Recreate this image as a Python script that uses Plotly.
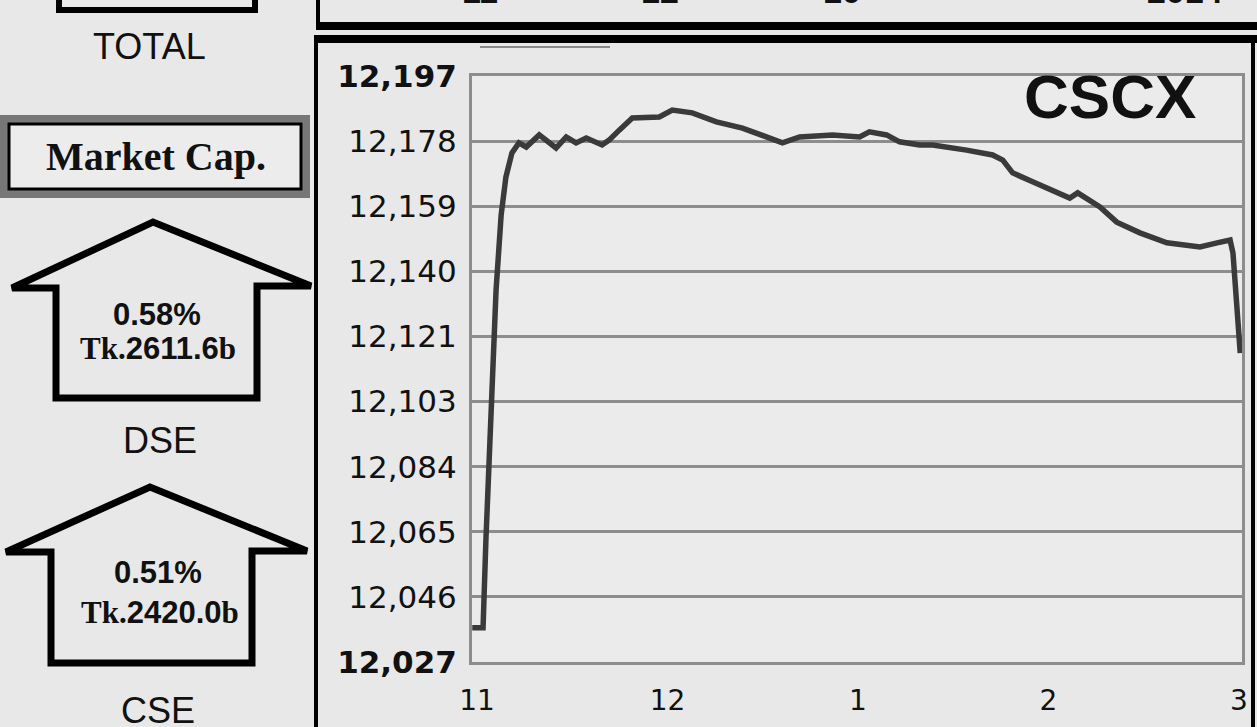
import plotly.graph_objects as go
import numpy as np

W, H = 1257, 727

# ---- data: CSCX intraday (minutes after 11:00) ----
minutes = [-1.5, 1.9, 2.8, 4.4, 6.0, 7.6, 9.1, 11.0, 13.2, 15.5, 19.6, 24.9, 28.1, 31.2,
           34.4, 39.4, 41.6, 44.8, 48.9, 57.4, 61.5, 67.8, 75.4, 83.6, 91.1, 96.2, 101.6,
           112.0, 120.5, 123.6, 129.0, 133.1, 139.4, 143.5, 154.2, 162.4, 165.6, 168.7,
           175.0, 182.6, 186.7, 189.2, 196.2, 201.5, 208.8, 217.3, 222.3, 227.7, 233.1,
           237.2, 238.1, 240.4]
cscx = [12036.9, 12036.9, 12062.4, 12103.0, 12134.9, 12156.7, 12167.7, 12174.7, 12177.6,
        12176.4, 12179.9, 12176.1, 12179.3, 12177.6, 12179.0, 12177.0, 12178.4, 12181.3,
        12184.8, 12185.1, 12187.1, 12186.3, 12183.7, 12181.9, 12179.3, 12177.6, 12179.3,
        12179.9, 12179.3, 12180.8, 12179.9, 12177.9, 12177.0, 12177.0, 12175.5, 12174.1,
        12172.6, 12168.9, 12166.3, 12163.1, 12161.6, 12163.1, 12159.0, 12154.6, 12151.5,
        12148.6, 12148.0, 12147.4, 12148.6, 12149.4, 12145.7, 12116.6]

y_min, y_max = 12027, 12197
y_tick_text = ["12,027", "12,046", "12,065", "12,084", "12,103",
               "12,121", "12,140", "12,159", "12,178", "12,197"]
x_tick_vals = [0, 60, 120, 180, 240]
x_tick_text = ["11", "12", "1", "2", "3"]

index_name = "CSCX"
dse = {"label": "DSE", "pct": "0.58%", "amt": "2611.6"}
cse = {"label": "CSE", "pct": "0.51%", "amt": "2420.0"}

# ---- helpers: pixel -> paper (margins are zero, so paper == whole figure) ----
def X(px):
    return px / W

def Y(py):
    return 1 - py / H

BG = "#e8e8e8"
GRID = "#8d8d8d"
INK = "#111111"

fig = go.Figure()
fig.add_trace(go.Scatter(x=minutes, y=cscx, mode="lines",
                         line=dict(color="#3a3a3a", width=5.5), showlegend=False,
                         hoverinfo="skip"))

tickvals_y = list(np.linspace(y_min, y_max, len(y_tick_text)))
ticktext_y = [("<b>%s</b>" % t) if i in (0, len(y_tick_text) - 1) else t
              for i, t in enumerate(y_tick_text)]

fig.update_layout(
    width=W, height=H, autosize=False,
    margin=dict(l=0, r=0, t=0, b=0, pad=0),
    paper_bgcolor=BG, plot_bgcolor="#ebebeb",
    xaxis=dict(domain=[X(472), X(1242)], automargin=False,
               range=[-1.58, 240.95], tickvals=x_tick_vals, ticktext=x_tick_text,
               showgrid=False, zeroline=False, showline=True, mirror=True,
               linecolor=GRID, linewidth=3, ticks="", ticklabelstandoff=11,
               tickfont=dict(family="DejaVu Sans", size=28, color=INK)),
    yaxis=dict(domain=[Y(662), Y(76)], automargin=False,
               range=[y_min, y_max], tickvals=tickvals_y, ticktext=ticktext_y,
               showgrid=True, gridcolor=GRID, gridwidth=3, zeroline=False,
               showline=True, mirror=True, linecolor=GRID, linewidth=3,
               ticks="", ticklabelstandoff=6,
               tickfont=dict(family="DejaVu Sans", size=31, color=INK)),
)

shapes = []

def line(x0, y0, x1, y1, color="black", width=4):
    shapes.append(dict(type="line", xref="paper", yref="paper",
                       x0=X(x0), y0=Y(y0), x1=X(x1), y1=Y(y1),
                       line=dict(color=color, width=width), layer="above"))

def rect(x0, y0, x1, y1, color="black", width=4, fill="rgba(0,0,0,0)"):
    shapes.append(dict(type="rect", xref="paper", yref="paper",
                       x0=X(x0), y0=Y(y0), x1=X(x1), y1=Y(y1),
                       line=dict(color=color, width=width), fillcolor=fill,
                       layer="below"))

def house(pts):
    d = "M " + " L ".join("%f,%f" % (X(a), Y(b)) for a, b in pts) + " Z"
    shapes.append(dict(type="path", xref="paper", yref="paper", path=d,
                       line=dict(color="black", width=7), fillcolor="rgba(0,0,0,0)",
                       layer="above"))

# top-left partial box
rect(59, -20, 255, 10, width=6)
# top right partial box
line(318, -5, 318, 28, width=4)
line(316, 26, 1262, 26, width=8)
# main box
line(314, 39, 1262, 39, width=8)
line(316, 39, 316, 735, width=4)
line(1253, 39, 1253, 735, width=4)
# small grey stub above the chart
line(480, 47, 610, 47, color="#8a8a8a", width=2)
# Market Cap. box
rect(3, 118, 307, 195, color="#777777", width=6, fill="#7a7a7a")
rect(9, 124, 301, 189, color="black", width=3, fill="#ececec")
# arrows (houses)
house([(12, 288), (153, 222), (311, 286), (257, 286), (257, 398), (56, 398), (56, 288)])
house([(6, 552), (150, 487), (307, 551), (252, 551), (252, 663), (51, 663), (51, 552)])

ann = []

def text(px, py, s, size, family="Liberation Sans", xanchor="center",
         yanchor="middle", color=INK):
    ann.append(dict(x=X(px), y=Y(py), xref="paper", yref="paper", text=s,
                    showarrow=False, xanchor=xanchor, yanchor=yanchor,
                    font=dict(family=family, size=size, color=color)))

# cut-off labels of the chart above (only their lower edge is visible)
for px_, s in [(480, "11"), (660, "12"), (842, "10"), (1185, "2014")]:
    text(px_, 12, "<b>%s</b>" % s, 34, yanchor="bottom")

text(149, 46, "TOTAL", 36)
text(156, 156, "<b>Market Cap.</b>", 40, family="Liberation Serif")
text(160, 440, dse["label"], 36)
text(158, 710, cse["label"], 36)

def money(amt):
    return ('<span style="font-family:Liberation Serif">Tk.</span>' + amt +
            '<span style="font-family:Liberation Serif">b</span>')

text(157, 314, "<b>%s</b>" % dse["pct"], 31)
text(158, 349, "<b>%s</b>" % money(dse["amt"]), 31)
text(158, 572, "<b>%s</b>" % cse["pct"], 31)
text(160, 612, "<b>%s</b>" % money(cse["amt"]), 31)

# index name inside the plot
text(1110, 97, "<b>%s</b>" % index_name, 62)

fig.update_layout(shapes=shapes, annotations=ann)

fig.write_html("out.html", config={"displayModeBar": False},
               post_script="document.body.style.margin='0';")
